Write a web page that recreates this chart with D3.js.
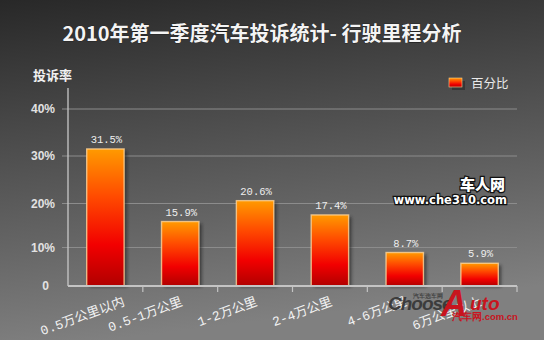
<!DOCTYPE html>
<html><head><meta charset="utf-8">
<script src="https://cdn.jsdelivr.net/npm/d3@7"></script>
<style>html,body{margin:0;padding:0;background:#444;}svg{display:block;}</style>
</head><body>
<svg id="c" width="544" height="340"></svg>
<script>
const title = "2010年第一季度汽车投诉统计- 行驶里程分析";
const categories = ["0.5万公里以内","0.5-1万公里","1-2万公里","2-4万公里","4-6万公里","6万公里以上"];
const values = [31.5, 15.9, 20.6, 17.4, 8.7, 5.9];
const yTicks = [0, 10, 20, 30, 40];
const yTickLabels = ["0", "10%", "20%", "30%", "40%"];
const yTitle = "投诉率";
const legendLabel = "百分比";

const W = 544, H = 340;
const svg = d3.select("#c");
const defs = svg.append("defs");

const bg = defs.append("linearGradient").attr("id","bg").attr("x1",0).attr("y1",0).attr("x2",0.2).attr("y2",1);
bg.append("stop").attr("offset","0%").attr("stop-color","#282828");
bg.append("stop").attr("offset","35%").attr("stop-color","#474747");
bg.append("stop").attr("offset","70%").attr("stop-color","#656565");
bg.append("stop").attr("offset","100%").attr("stop-color","#808080");

const bar = defs.append("linearGradient").attr("id","bar").attr("x1",0).attr("y1",0).attr("x2",0).attr("y2",1);
bar.append("stop").attr("offset","0%").attr("stop-color","#ff9a00");
bar.append("stop").attr("offset","35%").attr("stop-color","#ff4a00");
bar.append("stop").attr("offset","70%").attr("stop-color","#f20000");
bar.append("stop").attr("offset","100%").attr("stop-color","#b00000");

const sh = defs.append("filter").attr("id","sh").attr("x","-20%").attr("y","-20%").attr("width","160%").attr("height","140%");
sh.append("feGaussianBlur").attr("stdDeviation",1.5);

svg.append("rect").attr("width",W).attr("height",H).attr("fill","url(#bg)");

// title
svg.append("text").attr("x",262).attr("y",41).attr("text-anchor","middle")
  .attr("font-family","'Noto Sans CJK SC', sans-serif").attr("font-weight",700)
  .attr("font-size",20).attr("fill","#f4f4f4")
  .attr("stroke","#111").attr("stroke-width",0.6).attr("paint-order","stroke")
  .text(title);

const x = d3.scaleBand().domain(categories).range([68, 517]).padding(0);
const y = d3.scaleLinear().domain(yTicks).range([286, 247.5, 203.5, 156, 109]);
const bw = x.bandwidth() * 0.5;

// gridlines
svg.append("g").selectAll("line").data(yTicks.slice(1)).join("line")
  .attr("x1",62).attr("x2",517).attr("y1",d=>y(d)).attr("y2",d=>y(d))
  .attr("stroke","#8c8c8c").attr("stroke-width",1);

// y axis labels
svg.append("g").selectAll("text").data(yTicks).join("text")
  .attr("x",(d,i)=> i===0 ? 49 : 55).attr("y",d=>y(d)+4).attr("text-anchor","end")
  .attr("font-family","'Liberation Sans', Arial, sans-serif").attr("font-weight",700)
  .attr("font-size",12).attr("fill","#e2e2e2")
  .text((d,i)=>yTickLabels[i]);

// y title
svg.append("text").attr("x",33).attr("y",80)
  .attr("font-family","'Noto Sans CJK SC', sans-serif").attr("font-weight",700)
  .attr("font-size",13).attr("fill","#f0f0f0").text(yTitle);

// bars
const bars = svg.append("g");
bars.selectAll("rect.s").data(values).join("rect").attr("class","s")
  .attr("x",(d,i)=>x(categories[i]) + (x.bandwidth()-bw)/2 + 3)
  .attr("y",d=>y(d)+2).attr("width",bw).attr("height",d=>y(0)-y(d)-1)
  .attr("fill","#1a1a1a").attr("opacity",0.55).attr("filter","url(#sh)");
bars.selectAll("rect.b").data(values).join("rect").attr("class","b")
  .attr("x",(d,i)=>x(categories[i]) + (x.bandwidth()-bw)/2)
  .attr("y",d=>y(d)).attr("width",bw).attr("height",d=>y(0)-y(d))
  .attr("fill","url(#bar)").attr("stroke","#ffd49a").attr("stroke-width",1.4).attr("stroke-opacity",0.8);

// value labels
svg.append("g").selectAll("text").data(values).join("text")
  .attr("x",(d,i)=>x(categories[i]) + x.bandwidth()/2 + 1).attr("y",d=>y(d)-6)
  .attr("text-anchor","middle")
  .attr("font-family","'Liberation Mono', 'DejaVu Sans Mono', monospace")
  .attr("font-size",10.5).attr("fill","#eeeeee")
  .text(d=>d.toFixed(1)+"%");

// axes lines
svg.append("line").attr("x1",68).attr("x2",68).attr("y1",88).attr("y2",286)
  .attr("stroke","#c8c8c8").attr("stroke-width",1.3);
svg.append("line").attr("x1",68).attr("x2",517).attr("y1",286).attr("y2",286)
  .attr("stroke","#c4c4c4").attr("stroke-width",1.8);
svg.append("g").selectAll("line").data(categories).join("line")
  .attr("x1",d=>x(d)+x.bandwidth()).attr("x2",d=>x(d)+x.bandwidth())
  .attr("y1",286).attr("y2",292).attr("stroke","#c4c4c4").attr("stroke-width",1.2);

// x labels
svg.append("g").selectAll("text").data(categories).join("text")
  .attr("transform",(d,i)=>`translate(${x(d)+x.bandwidth()/2 + (i===0?20:3)},${305}) rotate(-20)`)
  .attr("text-anchor","end")
  .attr("font-family","'Liberation Mono', 'Noto Sans CJK SC', sans-serif").attr("font-size",13)
  .attr("fill","#f2f2f2")
  .text(d=>d);

// legend
svg.append("rect").attr("x",450).attr("y",79).attr("width",13).attr("height",9)
  .attr("fill","#222").attr("opacity",0.5).attr("transform","translate(2,2)");
svg.append("rect").attr("x",449).attr("y",78).attr("width",13).attr("height",9)
  .attr("fill","url(#bar)").attr("stroke","#ffcf90").attr("stroke-width",0.6);
svg.append("text").attr("x",471).attr("y",88)
  .attr("font-family","'Noto Sans CJK SC', sans-serif").attr("font-size",12.5)
  .attr("fill","#eaeaea").text(legendLabel);

// watermarks
svg.append("text").attr("x",505).attr("y",190).attr("text-anchor","end")
  .attr("font-family","'Noto Sans CJK SC', sans-serif").attr("font-weight",900).attr("font-size",15)
  .attr("fill","#fff").attr("stroke","#111").attr("stroke-width",2.5).attr("paint-order","stroke")
  .text("车人网");
svg.append("text").attr("x",507).attr("y",204).attr("text-anchor","end")
  .attr("font-family","'DejaVu Sans', sans-serif").attr("font-weight",700).attr("font-size",11.5)
  .attr("fill","#fff").attr("stroke","#111").attr("stroke-width",2.5).attr("paint-order","stroke")
  .text("www.che310.com");
const wm = svg.append("g").attr("font-family","'Liberation Sans', Arial, sans-serif").attr("font-weight",700).attr("font-style","italic");
wm.append("text").attr("x",388).attr("y",310).attr("font-size",19).attr("fill","#3c3c3c").attr("letter-spacing",-1).text("Choose");
wm.append("text").attr("x",441).attr("y",316).attr("font-size",36).attr("fill","#c8141e").text("A");
wm.append("text").attr("x",470).attr("y",310).attr("font-size",19).attr("fill","#c8141e").text("uto");
wm.append("text").attr("x",413).attr("y",298).attr("font-size",6).attr("font-style","normal").attr("fill","#444").text("汽车选车网");
wm.append("text").attr("x",452).attr("y",320).attr("font-size",9.5).attr("font-style","normal").attr("fill","#c8141e").text("汽车网.com.cn");
</script>
</body></html>
